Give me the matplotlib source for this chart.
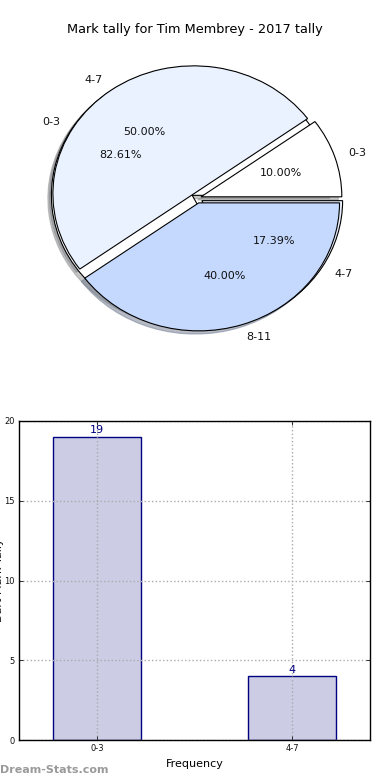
import matplotlib
matplotlib.use("Agg")
import matplotlib.pyplot as plt

# ---- data ----
title = "Mark tally for Tim Membrey - 2017 tally"
pie_old_labels = ["0-3", "4-7", "8-11"]
pie_old_values = [10, 50, 40]
bar_labels = ["0-3", "4-7"]
bar_values = [19, 4]
pie_colors = ["#FFFFFF", "#EAF1FF", "#C5D9FF"]

W, H = 390, 780
fig = plt.figure(figsize=(W / 100, H / 100), dpi=100)

def box(l, t, r, b):
    return [l / W, 1 - b / H, (r - l) / W, (b - t) / H]

fig.text(0.5, 1 - 30 / H, title, ha="center", va="center", fontsize=9.3, color="black")

# ---- pie (two overlaid pies) ----
axp = fig.add_axes(box(21, 38, 373, 358))
wp = dict(edgecolor="black", linewidth=0.8)
tp = dict(fontsize=8, color="#111111")
sh = dict(ox=-0.018, oy=-0.018, shade=0.45)
axp.pie(bar_values, labels=bar_labels, colors=pie_colors[:len(bar_values)],
        autopct="%.2f%%", explode=[0.04] * len(bar_values), shadow=sh,
        wedgeprops=wp, textprops=tp)
axp.pie(pie_old_values, labels=pie_old_labels, colors=pie_colors,
        autopct="%.2f%%", explode=[0.03, 0.04, 0.04], shadow=sh,
        wedgeprops=wp, textprops=tp)
axp.set_aspect("auto")
axp.set_xlim(-1.25, 1.25)
axp.set_ylim(-1.25, 1.25)
axp.axis("off")

# ---- bar chart ----
axb = fig.add_axes(box(19, 421, 370, 740))
x = list(range(len(bar_values)))
axb.bar(x, bar_values, width=0.45, color="#CCCCE4", edgecolor="#000080",
        linewidth=1.0, zorder=2)
for xi, v in zip(x, bar_values):
    axb.text(xi, v + 0.1, str(v), ha="center", va="bottom", fontsize=8,
             color="#000080", zorder=3)
axb.set_xlim(-0.4, 1.4)
axb.set_ylim(0, 20)
axb.set_yticks([0, 5, 10, 15, 20])
axb.set_xticks(x)
axb.set_xticklabels(bar_labels)
axb.tick_params(axis="both", which="both", direction="in", labelsize=6,
                top=True, right=True, length=3, width=0.6, pad=3, colors="#111111")
axb.grid(True, linestyle=":", color="#AAAAAA", linewidth=1.0, zorder=3)
axb.set_axisbelow(False)
for s in axb.spines.values():
    s.set_linewidth(1.0)
    s.set_zorder(5)
axb.set_xlabel("Frequency", fontsize=8, labelpad=4)

fig.text(-0.5 / W, 1 - 580 / H, "Dart Mark Tally", rotation=90, ha="center",
         va="center", fontsize=8, color="#111111")
fig.text(0 / W, 1 - 770 / H, "Dream-Stats.com", ha="left", va="center",
         fontsize=8, fontweight="bold", color="#9A9A9A")

fig.savefig("out.png", dpi=100)
